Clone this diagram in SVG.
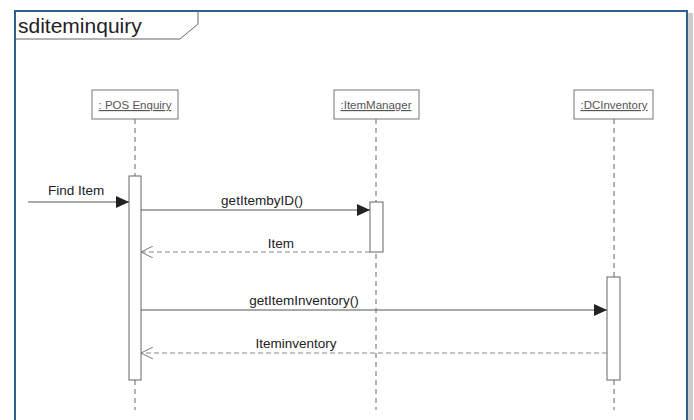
<svg xmlns="http://www.w3.org/2000/svg" width="694" height="420" viewBox="0 0 694 420">
<style>
.lbl{font-family:"Liberation Sans",Arial,sans-serif;font-size:13.5px;fill:#222}
.obj{font-family:"Liberation Sans",Arial,sans-serif;font-size:11.5px;fill:#555;text-decoration:underline}
.box{fill:#fff;stroke:#777;stroke-width:1}
.life{stroke:#666;stroke-width:1;stroke-dasharray:5,4;fill:none}
.act{fill:#fff;stroke:#666;stroke-width:1}
.msg{stroke:#555;stroke-width:1;fill:none}
.ret{stroke:#888;stroke-width:1;stroke-dasharray:5,3;fill:none}
</style>
<defs>
<marker id="filled" markerWidth="14" markerHeight="12" refX="13" refY="6" orient="auto" markerUnits="userSpaceOnUse">
<path d="M0,0 L13,6 L0,12 z" fill="#222"/>
</marker>
<marker id="open" markerWidth="14" markerHeight="12" refX="12" refY="6" orient="auto" markerUnits="userSpaceOnUse">
<path d="M0,0 L12,6 L0,12" fill="none" stroke="#777" stroke-width="1"/>
</marker>
</defs>
<rect x="0" y="0" width="694" height="420" fill="#fff"/>
<rect x="688" y="13" width="5" height="407" fill="#ccc"/>
<g id="frame">
<rect x="15" y="11" width="672" height="420" fill="#fff" stroke="#2f5f8f" stroke-width="2"/>
<path d="M15,39 L180,39 L198,24 L198,11" fill="none" stroke="#666" stroke-width="1"/>
<text x="18" y="33" font-family="Liberation Sans,Arial,sans-serif" font-size="21" fill="#222">sditeminquiry</text>
</g>
<g id="pos">
<line class="life" x1="135" y1="119" x2="135" y2="410"/>
<rect class="box" x="92" y="90" width="86" height="29"/>
<text class="obj" x="135" y="109" text-anchor="middle">: POS Enquiry</text>
<rect class="act" x="129" y="176" width="12" height="204"/>
</g>
<g id="itemmanager">
<line class="life" x1="376" y1="119" x2="376" y2="410"/>
<rect class="box" x="334" y="90" width="85" height="29"/>
<text class="obj" x="376" y="109" text-anchor="middle">:ItemManager</text>
<rect class="act" x="370" y="202" width="13" height="50"/>
</g>
<g id="dcinventory">
<line class="life" x1="614" y1="119" x2="614" y2="410"/>
<rect class="box" x="574" y="90" width="79" height="29"/>
<text class="obj" x="614" y="109" text-anchor="middle">:DCInventory</text>
<rect class="act" x="607" y="277" width="13" height="103"/>
</g>
<g id="connectors">
<line class="msg" x1="28" y1="202" x2="129" y2="202" marker-end="url(#filled)"/>
<text class="lbl" x="48" y="195">Find Item</text>
<line class="msg" x1="141" y1="210" x2="370" y2="210" marker-end="url(#filled)"/>
<text class="lbl" x="262" y="205" text-anchor="middle">getItembyID()</text>
<line class="ret" x1="370" y1="252" x2="141" y2="252" marker-end="url(#open)"/>
<text class="lbl" x="281" y="248" text-anchor="middle">Item</text>
<line class="msg" x1="141" y1="310" x2="607" y2="310" marker-end="url(#filled)"/>
<text class="lbl" x="304" y="305" text-anchor="middle">getItemInventory()</text>
<line class="ret" x1="607" y1="353" x2="141" y2="353" marker-end="url(#open)"/>
<text class="lbl" x="296" y="348" text-anchor="middle">Iteminventory</text>
</g>
</svg>
